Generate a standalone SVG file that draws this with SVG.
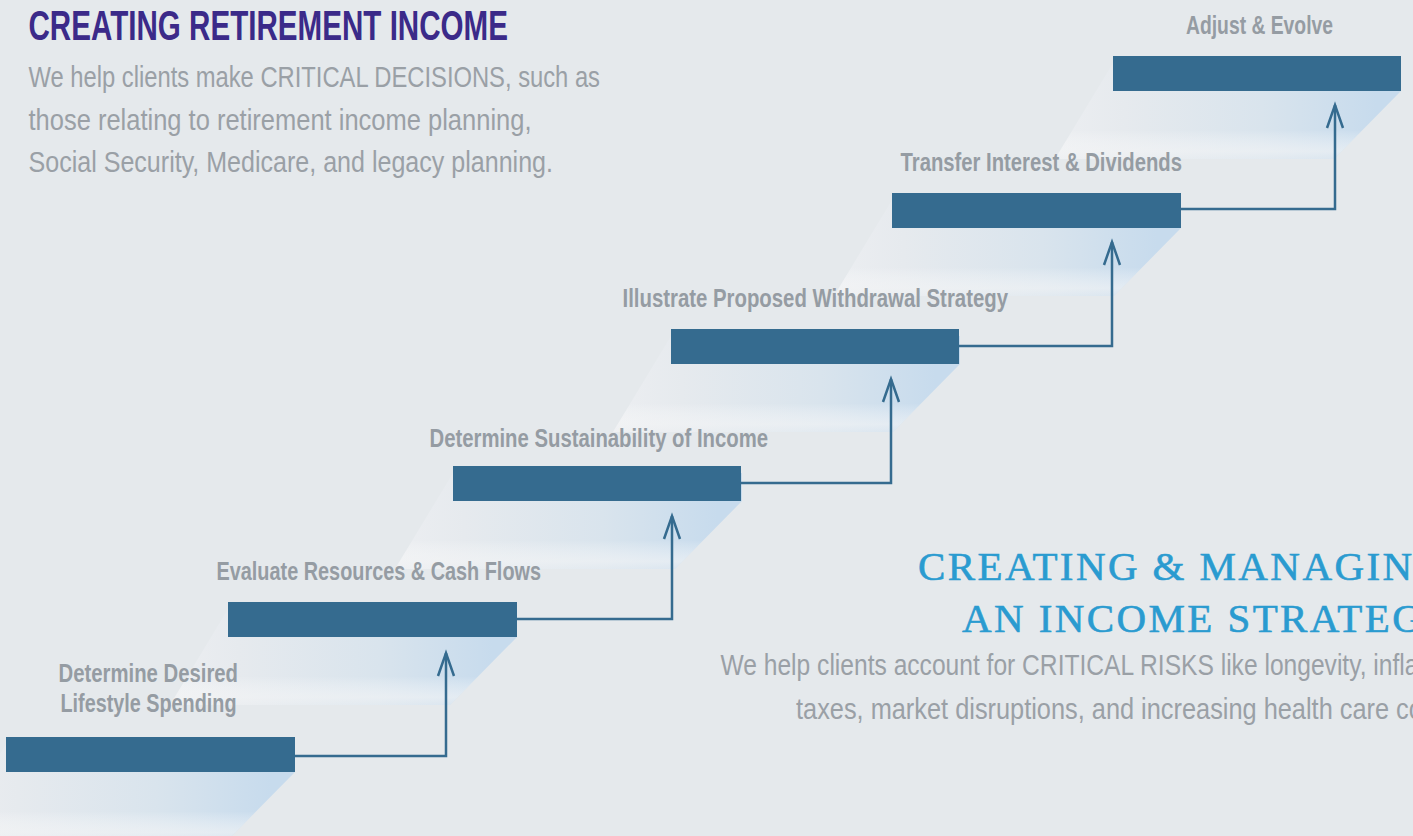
<svg xmlns="http://www.w3.org/2000/svg" width="1413" height="836" viewBox="0 0 1413 836">
<style>
.bar{fill:#356b8f}
.lbl{font-family:"Liberation Sans",Arial,sans-serif;font-weight:bold;font-size:25px;fill:#959ca3}
.body{font-family:"Liberation Sans",Arial,sans-serif;font-size:30px;fill:#9aa0a6}
.conn{fill:none;stroke:#356b8f;stroke-width:2.5;marker-end:url(#arr)}
.sh{fill:url(#shg)}
.shf{fill:url(#fade)}
.ttl2{font-family:"Liberation Serif","Times New Roman",serif;font-size:41px;fill:#2a9bd0;stroke:#2a9bd0;stroke-width:0.6px;letter-spacing:2.4px}
</style>
<defs>
<linearGradient id="shg" x1="0" y1="0" x2="1" y2="0">
<stop offset="0" stop-color="#eceef1"/>
<stop offset="0.2" stop-color="#e6eaee"/>
<stop offset="0.6" stop-color="#d9e4ed"/>
<stop offset="0.93" stop-color="#c7dbed"/>
<stop offset="1" stop-color="#c7dbed"/>
</linearGradient>
<linearGradient id="fade" x1="0" y1="0" x2="0" y2="1">
<stop offset="0" stop-color="#ffffff" stop-opacity="0"/>
<stop offset="0.7" stop-color="#ffffff" stop-opacity="0"/>
<stop offset="0.92" stop-color="#f4f5f6" stop-opacity="0.6"/>
<stop offset="1" stop-color="#f4f5f6" stop-opacity="0.35"/>
</linearGradient>
<marker id="arr" markerUnits="userSpaceOnUse" markerWidth="30" markerHeight="24" viewBox="-26 -12 30 24" refX="0" refY="0" orient="auto">
<path d="M-23,-8 L0,0 L-23,8" fill="none" stroke="#356b8f" stroke-width="2.5"/>
</marker>
</defs>
<rect width="1413" height="836" fill="#e5e9ec"/>

<g id="shadows">
<polygon class="sh" points="6,744 295,744 295,772 228,840 -52,840"/>
<polygon class="shf" points="6,744 295,744 295,772 228,840 -52,840"/>
<polygon class="sh" points="228,609 517,609 517,637 450,705 170,705"/>
<polygon class="shf" points="228,609 517,609 517,637 450,705 170,705"/>
<polygon class="sh" points="453,473 742,473 742,501 675,569 395,569"/>
<polygon class="shf" points="453,473 742,473 742,501 675,569 395,569"/>
<polygon class="sh" points="671,336 960,336 960,364 893,432 613,432"/>
<polygon class="shf" points="671,336 960,336 960,364 893,432 613,432"/>
<polygon class="sh" points="892,200 1181,200 1181,228 1114,296 834,296"/>
<polygon class="shf" points="892,200 1181,200 1181,228 1114,296 834,296"/>
<polygon class="sh" points="1113,63 1401,63 1401,91 1334,159 1055,159"/>
<polygon class="shf" points="1113,63 1401,63 1401,91 1334,159 1055,159"/>
</g>

<g id="connectors">
<path class="conn" d="M295,756 H446 V653"/>
<path class="conn" d="M517,619 H672 V516"/>
<path class="conn" d="M741,483 H891 V379"/>
<path class="conn" d="M959,346 H1112 V242"/>
<path class="conn" d="M1181,209 H1335 V105"/>
</g>

<g id="step1">
<rect class="bar" x="6" y="737" width="289" height="35"/>
<text class="lbl" x="58.5" y="681.5" textLength="179.5" lengthAdjust="spacingAndGlyphs">Determine Desired</text>
<text class="lbl" x="60.5" y="711.5" textLength="176" lengthAdjust="spacingAndGlyphs">Lifestyle Spending</text>
</g>
<g id="step2">
<rect class="bar" x="228" y="602" width="289" height="35"/>
<text class="lbl" x="216.5" y="579.5" textLength="324.5" lengthAdjust="spacingAndGlyphs">Evaluate Resources &amp; Cash Flows</text>
</g>
<g id="step3">
<rect class="bar" x="453" y="466" width="288" height="35"/>
<text class="lbl" x="429.5" y="446.5" textLength="338.5" lengthAdjust="spacingAndGlyphs">Determine Sustainability of Income</text>
</g>
<g id="step4">
<rect class="bar" x="671" y="329" width="288" height="35"/>
<text class="lbl" x="622.5" y="306.5" textLength="385.5" lengthAdjust="spacingAndGlyphs">Illustrate Proposed Withdrawal Strategy</text>
</g>
<g id="step5">
<rect class="bar" x="892" y="193" width="289" height="35"/>
<text class="lbl" x="900.5" y="170.5" textLength="281.5" lengthAdjust="spacingAndGlyphs">Transfer Interest &amp; Dividends</text>
</g>
<g id="step6">
<rect class="bar" x="1113" y="56" width="288" height="35"/>
<text class="lbl" x="1186" y="34" textLength="147" lengthAdjust="spacingAndGlyphs">Adjust &amp; Evolve</text>
</g>

<g id="intro">
<text x="28.5" y="40" textLength="479.5" lengthAdjust="spacingAndGlyphs" style="font-family:'Liberation Sans',Arial,sans-serif;font-weight:bold;font-size:42px;fill:#3b2a89">CREATING RETIREMENT INCOME</text>
<text class="body" x="28.5" y="87" textLength="571.5" lengthAdjust="spacingAndGlyphs">We help clients make CRITICAL DECISIONS, such as</text>
<text class="body" x="28.5" y="129.5" textLength="503" lengthAdjust="spacingAndGlyphs">those relating to retirement income planning,</text>
<text class="body" x="28.5" y="172" textLength="524.5" lengthAdjust="spacingAndGlyphs">Social Security, Medicare, and legacy planning.</text>
</g>

<g id="strategy">
<text class="ttl2" x="918" y="580">CREATING &amp; MANAGING</text>
<text class="ttl2" x="962" y="632">AN INCOME STRATEGY</text>
<text class="body" transform="translate(720.5,675) scale(0.82,1)">We help clients account for CRITICAL RISKS like longevity, inflation,</text>
<text class="body" transform="translate(796,718.5) scale(0.845,1)">taxes, market disruptions, and increasing health care costs.</text>
</g>
</svg>
